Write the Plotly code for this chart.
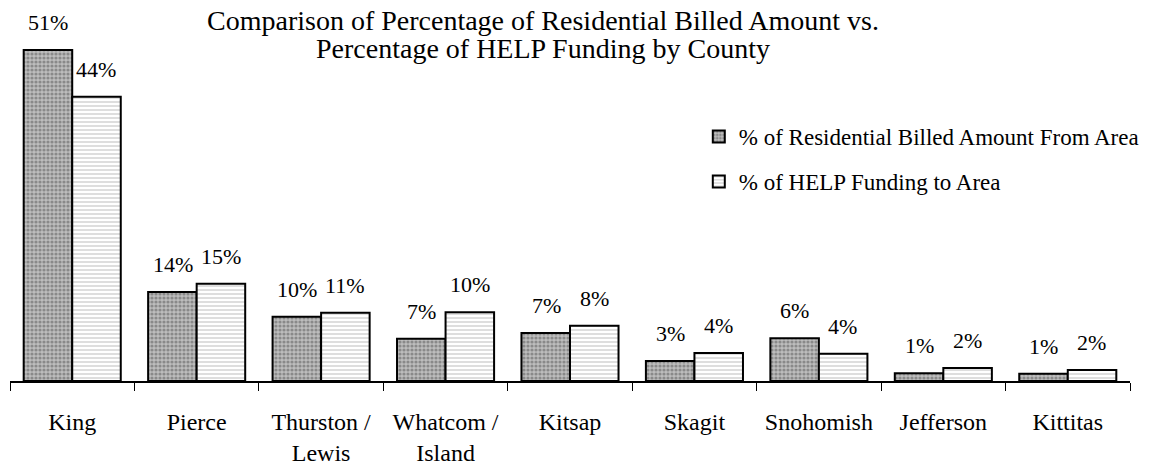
import plotly.graph_objects as go

categories = ["King", "Pierce", "Thurston /<br>Lewis", "Whatcom /<br>Island", "Kitsap",
              "Skagit", "Snohomish", "Jefferson", "Kittitas"]
billed = [51, 13.7, 9.9, 6.5, 7.4, 3.1, 6.6, 1.2, 1.1]
funding = [43.8, 15, 10.5, 10.6, 8.5, 4.3, 4.2, 2.0, 1.7]
billed_labels = ["51%", "14%", "10%", "7%", "7%", "3%", "6%", "1%", "1%"]
funding_labels = ["44%", "15%", "11%", "10%", "8%", "4%", "4%", "2%", "2%"]
title_lines = ["Comparison of Percentage of Residential Billed Amount vs.",
               "Percentage of HELP Funding by County"]

FONT = "Liberation Serif"

fig = go.Figure()
fig.add_trace(go.Bar(
    x=categories, y=billed, name="% of Residential Billed Amount From Area",
    legendgroup="a",
    marker=dict(color="#9a9a9a", line=dict(color="black", width=2),
                pattern=dict(shape=".", fgcolor="#555555", bgcolor="#bdbdbd", size=4, solidity=0.5)),
))
fig.add_trace(go.Bar(
    x=categories, y=funding, name="% of HELP Funding to Area",
    legendgroup="b",
    marker=dict(color="white", line=dict(color="black", width=2),
                pattern=dict(shape="-", fgcolor="#7a7a7a", bgcolor="white", size=4, solidity=0.25)),
))

annotations = []
for i, c in enumerate(categories):
    annotations.append(dict(x=c, y=billed[i], text=billed_labels[i], xref="x", yref="y",
                            xshift=-24, yshift=13, yanchor="bottom", showarrow=False,
                            font=dict(family=FONT, size=22, color="black")))
    annotations.append(dict(x=c, y=funding[i], text=funding_labels[i], xref="x", yref="y",
                            xshift=24, yshift=13, yanchor="bottom", showarrow=False,
                            font=dict(family=FONT, size=22, color="black")))

for ty, line in zip([0.9475, 0.874], title_lines):
    annotations.append(dict(x=0.476, y=ty, xref="paper", yref="paper", yanchor="middle",
                            text=line, showarrow=False,
                            font=dict(family=FONT, size=28, color="black")))

fig.update_layout(
    width=1150, height=466,
    margin=dict(l=10, r=20, t=0, b=85, autoexpand=False),
    paper_bgcolor="white", plot_bgcolor="white",
    barmode="group", bargap=0.22, bargroupgap=0,
    font=dict(family=FONT, size=22, color="black"),
    showlegend=True,
    legend=dict(x=0.615, y=0.698, xanchor="left", yanchor="top",
                font=dict(family=FONT, size=23, color="black"),
                tracegroupgap=12, bgcolor="rgba(0,0,0,0)", itemwidth=30),
    annotations=annotations,
)
fig.update_xaxes(showline=True, linecolor="black", linewidth=1.5,
                 ticks="outside", tickson="boundaries", ticklen=8, tickcolor="black",
                 ticklabelstandoff=18,
                 tickfont=dict(family=FONT, size=24, color="black"), showgrid=False)
fig.update_yaxes(visible=False, range=[0, 58.7])

fig.write_html("out.html", config={"displayModeBar": False},
               post_script="document.body.style.margin='0px';document.body.style.padding='0px';")
